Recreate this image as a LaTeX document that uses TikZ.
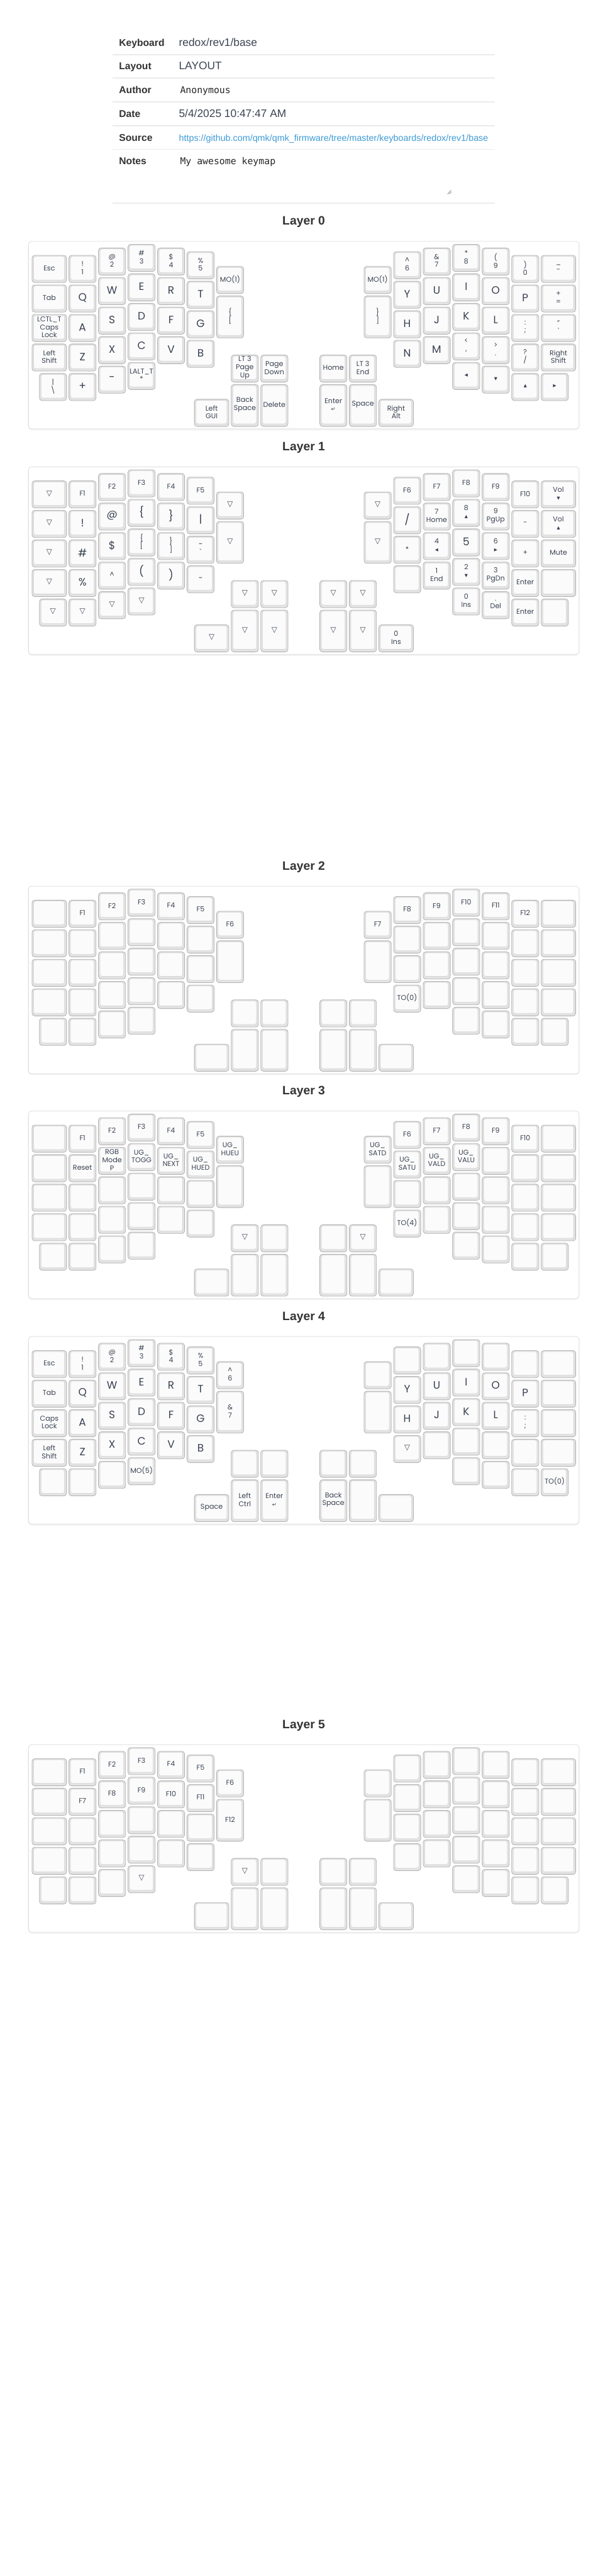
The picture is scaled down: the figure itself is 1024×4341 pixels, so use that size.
\documentclass[tikz,border=0pt]{standalone}
\usepackage{fontspec}
\setmainfont{Poppins}
\newfontfamily\hdfont{Liberation Sans}
\newfontfamily\monofont{DejaVu Sans Mono}
\newfontfamily\symfont{DejaVu Sans}
\definecolor{kbord}{HTML}{B4B4B4}
\definecolor{kside}{HTML}{E3E3E3}
\definecolor{kface}{HTML}{FBFBFB}
\definecolor{kfaceb}{HTML}{D6D6D6}
\definecolor{ktext}{HTML}{3A4252}
\definecolor{hlabc}{HTML}{333333}
\definecolor{hvalc}{HTML}{3C4452}
\definecolor{linkc}{HTML}{3D9BD6}
\definecolor{linec}{HTML}{EBEBEB}
\definecolor{contc}{HTML}{E2E2E2}

\newcommand\KBig{\fontsize{18}{18}\selectfont}
\newcommand\KTri{{\symfont\fontsize{12.5}{12.5}\selectfont ▽}}
\newcommand\KSm[1]{{\symfont\fontsize{11}{11}\selectfont #1}}
\newcommand\KRet{{\symfont\fontsize{9}{9}\selectfont ↵}}

\newcommand\defpos[5]{\expandafter\def\csname pos@#1\endcsname{{#2}{#3}{#4}{#5}}}
\newcommand\KL[2]{\expandafter\def\csname lg@\lay @#1\endcsname{#2}}

\defpos{L00}{0}{0.375}{1.25}{1}
\defpos{L01}{1.25}{0.375}{1}{1}
\defpos{L02}{2.25}{0.125}{1}{1}
\defpos{L03}{3.25}{0}{1}{1}
\defpos{L04}{4.25}{0.125}{1}{1}
\defpos{L05}{5.25}{0.25}{1}{1}
\defpos{L16}{6.25}{0.75}{1}{1}
\defpos{L10}{0}{1.375}{1.25}{1}
\defpos{L11}{1.25}{1.375}{1}{1}
\defpos{L12}{2.25}{1.125}{1}{1}
\defpos{L13}{3.25}{1}{1}{1}
\defpos{L14}{4.25}{1.125}{1}{1}
\defpos{L15}{5.25}{1.25}{1}{1}
\defpos{L26}{6.25}{1.75}{1}{1.5}
\defpos{L20}{0}{2.375}{1.25}{1}
\defpos{L21}{1.25}{2.375}{1}{1}
\defpos{L22}{2.25}{2.125}{1}{1}
\defpos{L23}{3.25}{2}{1}{1}
\defpos{L24}{4.25}{2.125}{1}{1}
\defpos{L25}{5.25}{2.25}{1}{1}
\defpos{L30}{0}{3.375}{1.25}{1}
\defpos{L31}{1.25}{3.375}{1}{1}
\defpos{L32}{2.25}{3.125}{1}{1}
\defpos{L33}{3.25}{3}{1}{1}
\defpos{L34}{4.25}{3.125}{1}{1}
\defpos{L35}{5.25}{3.25}{1}{1}
\defpos{L40}{0.25}{4.375}{1}{1}
\defpos{L41}{1.25}{4.375}{1}{1}
\defpos{L42}{2.25}{4.125}{1}{1}
\defpos{L43}{3.25}{4}{1}{1}
\defpos{T1}{6.75}{3.75}{1}{1}
\defpos{T2}{7.75}{3.75}{1}{1}
\defpos{T3}{5.5}{5.25}{1.25}{1}
\defpos{T4}{6.75}{4.75}{1}{1.5}
\defpos{T5}{7.75}{4.75}{1}{1.5}
\defpos{U1}{9.75}{3.75}{1}{1}
\defpos{U2}{10.75}{3.75}{1}{1}
\defpos{U3}{9.75}{4.75}{1}{1.5}
\defpos{U4}{10.75}{4.75}{1}{1.5}
\defpos{U5}{11.75}{5.25}{1.25}{1}
\defpos{R10}{11.25}{0.75}{1}{1}
\defpos{R00}{12.25}{0.25}{1}{1}
\defpos{R01}{13.25}{0.125}{1}{1}
\defpos{R02}{14.25}{0}{1}{1}
\defpos{R03}{15.25}{0.125}{1}{1}
\defpos{R04}{16.25}{0.375}{1}{1}
\defpos{R05}{17.25}{0.375}{1.25}{1}
\defpos{R20}{11.25}{1.75}{1}{1.5}
\defpos{R11}{12.25}{1.25}{1}{1}
\defpos{R12}{13.25}{1.125}{1}{1}
\defpos{R13}{14.25}{1}{1}{1}
\defpos{R14}{15.25}{1.125}{1}{1}
\defpos{R15}{16.25}{1.375}{1}{1}
\defpos{R16}{17.25}{1.375}{1.25}{1}
\defpos{R21}{12.25}{2.25}{1}{1}
\defpos{R22}{13.25}{2.125}{1}{1}
\defpos{R23}{14.25}{2}{1}{1}
\defpos{R24}{15.25}{2.125}{1}{1}
\defpos{R25}{16.25}{2.375}{1}{1}
\defpos{R26}{17.25}{2.375}{1.25}{1}
\defpos{R31}{12.25}{3.25}{1}{1}
\defpos{R32}{13.25}{3.125}{1}{1}
\defpos{R33}{14.25}{3}{1}{1}
\defpos{R34}{15.25}{3.125}{1}{1}
\defpos{R35}{16.25}{3.375}{1}{1}
\defpos{R36}{17.25}{3.375}{1.25}{1}
\defpos{R43}{14.25}{4}{1}{1}
\defpos{R44}{15.25}{4.125}{1}{1}
\defpos{R45}{16.25}{4.375}{1}{1}
\defpos{R46}{17.25}{4.375}{1}{1}

% ---------- Layer 0 ----------
\def\lay{A}
\KL{L00}{Esc}\KL{L01}{!\\1}\KL{L02}{@\\2}\KL{L03}{\#\\3}\KL{L04}{\$\\4}\KL{L05}{\%\\5}\KL{L16}{MO(1)}
\KL{L10}{Tab}\KL{L11}{\KBig Q}\KL{L12}{\KBig W}\KL{L13}{\KBig E}\KL{L14}{\KBig R}\KL{L15}{\KBig T}\KL{L26}{\{\\{[}}
\KL{L20}{LCTL\_T\\Caps\\Lock}\KL{L21}{\KBig A}\KL{L22}{\KBig S}\KL{L23}{\KBig D}\KL{L24}{\KBig F}\KL{L25}{\KBig G}
\KL{L30}{Left\\Shift}\KL{L31}{\KBig Z}\KL{L32}{\KBig X}\KL{L33}{\KBig C}\KL{L34}{\KBig V}\KL{L35}{\KBig B}
\KL{L40}{|\\\textbackslash}\KL{L41}{\KBig +}\KL{L42}{\KBig -}\KL{L43}{LALT\_T\\*}
\KL{T1}{LT 3\\Page\\Up}\KL{T2}{Page\\Down}\KL{T3}{Left\\GUI}\KL{T4}{Back\\Space}\KL{T5}{Delete}
\KL{U1}{Home}\KL{U2}{LT 3\\End}\KL{U3}{Enter\\\KRet}\KL{U4}{Space}\KL{U5}{Right\\Alt}
\KL{R10}{MO(1)}\KL{R00}{\textasciicircum\\6}\KL{R01}{\&\\7}\KL{R02}{*\\8}\KL{R03}{(\\9}\KL{R04}{)\\0}\KL{R05}{\_\\-}
\KL{R20}{\}\\{]}}\KL{R11}{\KBig Y}\KL{R12}{\KBig U}\KL{R13}{\KBig I}\KL{R14}{\KBig O}\KL{R15}{\KBig P}\KL{R16}{+\\=}
\KL{R21}{\KBig H}\KL{R22}{\KBig J}\KL{R23}{\KBig K}\KL{R24}{\KBig L}\KL{R25}{:\\;}\KL{R26}{"\\\textquotesingle}
\KL{R31}{\KBig N}\KL{R32}{\KBig M}\KL{R33}{<\\,}\KL{R34}{>\\.}\KL{R35}{?\\/}\KL{R36}{Right\\Shift}
\KL{R43}{\KSm{◂}}\KL{R44}{\KSm{▾}}\KL{R45}{\KSm{▴}}\KL{R46}{\KSm{▸}}

% ---------- Layer 1 ----------
\def\lay{B}
\KL{L00}{\KTri}\KL{L01}{F1}\KL{L02}{F2}\KL{L03}{F3}\KL{L04}{F4}\KL{L05}{F5}\KL{L16}{\KTri}
\KL{L10}{\KTri}\KL{L11}{\KBig !}\KL{L12}{\KBig @}\KL{L13}{\KBig \{}\KL{L14}{\KBig \}}\KL{L15}{\KBig |}\KL{L26}{\KTri}
\KL{L20}{\KTri}\KL{L21}{\KBig \#}\KL{L22}{\KBig \$}\KL{L23}{\{\\{[}}\KL{L24}{\}\\{]}}\KL{L25}{\textasciitilde\\\textasciigrave}
\KL{L30}{\KTri}\KL{L31}{\KBig \%}\KL{L32}{\textasciicircum}\KL{L33}{\KBig (}\KL{L34}{\KBig )}\KL{L35}{\textasciitilde}
\KL{L40}{\KTri}\KL{L41}{\KTri}\KL{L42}{\KTri}\KL{L43}{\KTri}
\KL{T1}{\KTri}\KL{T2}{\KTri}\KL{T3}{\KTri}\KL{T4}{\KTri}\KL{T5}{\KTri}
\KL{U1}{\KTri}\KL{U2}{\KTri}\KL{U3}{\KTri}\KL{U4}{\KTri}\KL{U5}{0\\Ins}
\KL{R10}{\KTri}\KL{R00}{F6}\KL{R01}{F7}\KL{R02}{F8}\KL{R03}{F9}\KL{R04}{F10}\KL{R05}{Vol\\\KSm{▾}}
\KL{R20}{\KTri}\KL{R11}{\KBig /}\KL{R12}{7\\Home}\KL{R13}{8\\\KSm{▴}}\KL{R14}{9\\PgUp}\KL{R15}{-}\KL{R16}{Vol\\\KSm{▴}}
\KL{R21}{*}\KL{R22}{4\\\KSm{◂}}\KL{R23}{\KBig 5}\KL{R24}{6\\\KSm{▸}}\KL{R25}{+}\KL{R26}{Mute}
\KL{R32}{1\\End}\KL{R33}{2\\\KSm{▾}}\KL{R34}{3\\PgDn}\KL{R35}{Enter}
\KL{R43}{0\\Ins}\KL{R44}{.\\Del}\KL{R45}{Enter}

% ---------- Layer 2 ----------
\def\lay{C}
\KL{L01}{F1}\KL{L02}{F2}\KL{L03}{F3}\KL{L04}{F4}\KL{L05}{F5}\KL{L16}{F6}
\KL{R10}{F7}\KL{R00}{F8}\KL{R01}{F9}\KL{R02}{F10}\KL{R03}{F11}\KL{R04}{F12}
\KL{R31}{TO(0)}

% ---------- Layer 3 ----------
\def\lay{D}
\KL{L01}{F1}\KL{L02}{F2}\KL{L03}{F3}\KL{L04}{F4}\KL{L05}{F5}\KL{L16}{UG\_\\HUEU}
\KL{L11}{Reset}\KL{L12}{RGB\\Mode\\P}\KL{L13}{UG\_\\TOGG}\KL{L14}{UG\_\\NEXT}\KL{L15}{UG\_\\HUED}
\KL{T1}{\KTri}\KL{U2}{\KTri}
\KL{R10}{UG\_\\SATD}\KL{R00}{F6}\KL{R01}{F7}\KL{R02}{F8}\KL{R03}{F9}\KL{R04}{F10}
\KL{R11}{UG\_\\SATU}\KL{R12}{UG\_\\VALD}\KL{R13}{UG\_\\VALU}
\KL{R31}{TO(4)}

% ---------- Layer 4 ----------
\def\lay{E}
\KL{L00}{Esc}\KL{L01}{!\\1}\KL{L02}{@\\2}\KL{L03}{\#\\3}\KL{L04}{\$\\4}\KL{L05}{\%\\5}\KL{L16}{\textasciicircum\\6}
\KL{L10}{Tab}\KL{L11}{\KBig Q}\KL{L12}{\KBig W}\KL{L13}{\KBig E}\KL{L14}{\KBig R}\KL{L15}{\KBig T}\KL{L26}{\&\\7}
\KL{L20}{Caps\\Lock}\KL{L21}{\KBig A}\KL{L22}{\KBig S}\KL{L23}{\KBig D}\KL{L24}{\KBig F}\KL{L25}{\KBig G}
\KL{L30}{Left\\Shift}\KL{L31}{\KBig Z}\KL{L32}{\KBig X}\KL{L33}{\KBig C}\KL{L34}{\KBig V}\KL{L35}{\KBig B}
\KL{L43}{MO(5)}
\KL{T3}{Space}\KL{T4}{Left\\Ctrl}\KL{T5}{Enter\\\KRet}
\KL{U3}{Back\\Space}
\KL{R11}{\KBig Y}\KL{R12}{\KBig U}\KL{R13}{\KBig I}\KL{R14}{\KBig O}\KL{R15}{\KBig P}
\KL{R21}{\KBig H}\KL{R22}{\KBig J}\KL{R23}{\KBig K}\KL{R24}{\KBig L}\KL{R25}{:\\;}
\KL{R31}{\KTri}\KL{R46}{TO(0)}

% ---------- Layer 5 ----------
\def\lay{F}
\KL{L01}{F1}\KL{L02}{F2}\KL{L03}{F3}\KL{L04}{F4}\KL{L05}{F5}\KL{L16}{F6}
\KL{L11}{F7}\KL{L12}{F8}\KL{L13}{F9}\KL{L14}{F10}\KL{L15}{F11}\KL{L26}{F12}
\KL{L43}{\KTri}\KL{T1}{\KTri}

\newcommand\KeyAt[1]{\expandafter\expandafter\expandafter\KeyDraw\csname pos@#1\endcsname{#1}}
\newcommand\KeyDraw[5]{%
  \pgfmathsetmacro\kx{54+#1*49.75}%
  \pgfmathsetmacro\ky{\oy+#2*49.75}%
  \pgfmathsetmacro\kw{#3*49.75-4}%
  \pgfmathsetmacro\kh{#4*49.75-4}%
  \pgfmathsetmacro\kcx{\kx+\kw/2}%
  \pgfmathsetmacro\kcy{\ky+\kh/2-1.35}%
  \draw[keyout] (\kx,\ky) rectangle ++(\kw,\kh);
  \draw[keyin] (\kx+2.7,\ky+1.7) rectangle (\kx+\kw-3.3,\ky+\kh-4.4);
  \expandafter\let\expandafter\kleg\csname lg@\lay @#5\endcsname
  \node[legend] (\lay#5) at (\kcx,\kcy) {\kleg};
}
\newcommand\LayerBox[3]{%
  \def\lay{#1}%
  \pgfmathsetmacro\oy{#2+5}%
  \draw[contshadow] (48,#2+1) rectangle (976,#2+317.5);
  \draw[cont] (48,#2) rectangle (976,#2+316);
  \node[ltitle] (title#1) at (512,#2-27.4) {#3};
  \foreach \n in {L00,L01,L02,L03,L04,L05,L16,L10,L11,L12,L13,L14,L15,L26,L20,L21,L22,L23,L24,L25,L30,L31,L32,L33,L34,L35,L40,L41,L42,L43,T1,T2,T3,T4,T5,U1,U2,U3,U4,U5,R10,R00,R01,R02,R03,R04,R05,R20,R11,R12,R13,R14,R15,R16,R21,R22,R23,R24,R25,R26,R31,R32,R33,R34,R35,R36,R43,R44,R45,R46}{\KeyAt{\n}}
}

\tikzset{
  keyout/.style={draw=kbord, fill=kside, rounded corners=4.5pt, line width=0.9pt},
  keyin/.style={draw=kfaceb, fill=kface, rounded corners=3.5pt, line width=0.6pt},
  legend/.style={text=ktext, font=\fontsize{11.8}{13.5}\selectfont, align=center, inner sep=0pt},
  cont/.style={draw=contc, fill=white, rounded corners=5pt, line width=1pt},
  contshadow/.style={draw=black!5, rounded corners=6pt, line width=2pt},
  ltitle/.style={anchor=base, text=hlabc, font=\hdfont\bfseries\fontsize{20.5}{20.5}\selectfont, inner sep=0pt},
  hlab/.style={anchor=base west, text=hlabc, font=\hdfont\bfseries\fontsize{16.6}{16.6}\selectfont, inner sep=0pt},
  hval/.style={anchor=base west, text=hvalc, font=\hdfont\fontsize{18.4}{18.4}\selectfont, inner sep=0pt},
  hmono/.style={anchor=base west, text=black!85, font=\monofont\fontsize{15.7}{15.7}\selectfont, inner sep=0pt},
  hlink/.style={anchor=base west, text=linkc, font=\hdfont\fontsize{15.2}{15.2}\selectfont, inner sep=0pt},
  hline/.style={draw=linec, line width=2pt},
}

\begin{document}
\begin{tikzpicture}[x=1pt,y=-1pt]
\useasboundingbox (0,0) rectangle (1024,4341);
\fill[white] (0,0) rectangle (1024,4341);

% header table
\node[hlab] (labKb) at (200.5,77.5) {Keyboard};
\node[hval] (valKb) at (301.4,77.5) {redox/rev1/base};
\draw[hline] (189.5,92) -- (834,92);
\node[hlab] (labLy) at (200.5,117.5) {Layout};
\node[hval] (valLy) at (301.4,117.5) {LAYOUT};
\draw[hline] (189.5,131.7) -- (834,131.7);
\node[hlab] (labAu) at (200.5,157.5) {Author};
\node[hmono] (valAu) at (303.5,157.5) {Anonymous};
\draw[hline] (189.5,171.7) -- (834,171.7);
\node[hlab] (labDt) at (200.5,197.5) {Date};
\node[hval] (valDt) at (301.4,197.5) {5/4/2025 10:47:47 AM};
\draw[hline] (189.5,211.7) -- (834,211.7);
\node[hlab] (labSr) at (200.5,237.5) {Source};
\node[hlink] (valSr) at (301.4,237.5) {https://github.com/qmk/qmk\_firmware/tree/master/keyboards/redox/rev1/base};
\draw[hline] (189.5,251.7) -- (834,251.7);
\node[hlab] (labNt) at (200.5,277.3) {Notes};
\node[hmono] (valNt) at (303.5,277.3) {My awesome keymap};
\draw[black!55, line width=0.7pt] (754.5,327) -- (760.5,320.5);
\draw[black!55, line width=0.7pt] (757.5,327) -- (760.5,323.7);
\draw[hline] (189.5,342.3) -- (834,342.3);

\LayerBox{A}{406.7}{Layer 0}
\LayerBox{B}{786.7}{Layer 1}
\LayerBox{C}{1493.3}{Layer 2}
\LayerBox{D}{1872.3}{Layer 3}
\LayerBox{E}{2252.3}{Layer 4}
\LayerBox{F}{2940}{Layer 5}
\end{tikzpicture}
\end{document}
